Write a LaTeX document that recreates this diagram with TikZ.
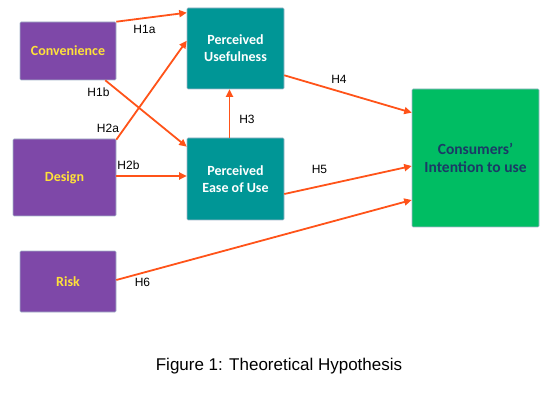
\documentclass[tikz,border=0pt]{standalone}
\usepackage{fontspec}
\setmainfont{Liberation Sans}
\newfontfamily\boxfont{Carlito}
\usetikzlibrary{arrows.meta}
\definecolor{boxpurple}{HTML}{7E48A8}
\definecolor{boxteal}{HTML}{009696}
\definecolor{boxgreen}{HTML}{00BD63}
\definecolor{txtyellow}{HTML}{FFE13A}
\definecolor{txtblue}{HTML}{1B3A66}
\definecolor{arr}{HTML}{FF5319}
\definecolor{edge}{HTML}{A3B6C9}
\tikzset{
  basebox/.style={draw=edge, line width=0.6pt, rounded corners=1pt, inner sep=0pt, align=center,
    font=\boxfont\bfseries\fontsize{14}{17}\selectfont},
  purplebox/.style={basebox, fill=boxpurple, text=txtyellow},
  tealbox/.style={basebox, fill=boxteal, text=white},
  greenbox/.style={basebox, fill=boxgreen, text=txtblue, font=\boxfont\bfseries\fontsize{15.5}{18}\selectfont},
  conn/.style={draw=arr, line width=1.8pt, -{Triangle[length=7.5pt,width=7pt]}},
  hlabel/.style={font=\fontsize{12}{14}\selectfont, inner sep=0pt, text height=8.5pt, text depth=0pt},
}
\begin{document}
\begin{tikzpicture}[x=1pt,y=-1pt]
\useasboundingbox (0,0) rectangle (546,414);
\node[purplebox, minimum width=96pt, minimum height=58pt] (conv) at (68,51) {Convenience};
\node[purplebox, minimum width=103pt, minimum height=77pt] (design) at (64.5,177.5) {Design};
\node[purplebox, minimum width=96pt, minimum height=61pt] (risk) at (68,281.5) {Risk};
\node[tealbox, minimum width=97pt, minimum height=81pt] (pu) at (235.5,48.5) {Perceived\\Usefulness};
\node[tealbox, minimum width=97pt, minimum height=82pt] (peu) at (235.5,179) {Perceived\\Ease of Use};
\node[greenbox, minimum width=127pt, minimum height=138pt] (int) at (475.5,158) {Consumers’\\Intention to use};

\draw[conn] (conv.north east) -- ([yshift=-5pt]pu.north west);
\draw[conn] ([xshift=-11pt]conv.south east) -- ([yshift=-9pt]peu.north west);
\draw[conn] ([yshift=-1pt]design.north east) -- ([yshift=-33pt]pu.north west);
\draw[conn] ([yshift=1.5pt]design.east) -- ([yshift=3pt]peu.west);
\draw[conn] ([xshift=-6pt]peu.north) -- ([xshift=-6pt]pu.south);
\draw[conn] ([yshift=14pt]pu.south east) -- ([yshift=-24pt]int.north west);
\draw[conn] ([yshift=-15pt]peu.east) -- ([yshift=-8pt]int.west);
\draw[conn] ([yshift=1.5pt]risk.east) -- ([yshift=-42pt]int.west);

\node[hlabel] (l1a) at (144.5,29.5) {H1a};
\node[hlabel] (l1b) at (98.5,92) {H1b};
\node[hlabel] (l2a) at (108,128.5) {H2a};
\node[hlabel] (l2b) at (128.5,165.5) {H2b};
\node[hlabel] (l3) at (247,119) {H3};
\node[hlabel] (l4) at (339,79.5) {H4};
\node[hlabel] (l5) at (319.5,169) {H5};
\node[hlabel] (l6) at (142.5,282.5) {H6};

\node[font=\fontsize{17}{20}\selectfont, inner sep=0pt] (cap) at (279,366) {Figure 1: Theoretical Hypothesis};
\end{tikzpicture}
\end{document}
